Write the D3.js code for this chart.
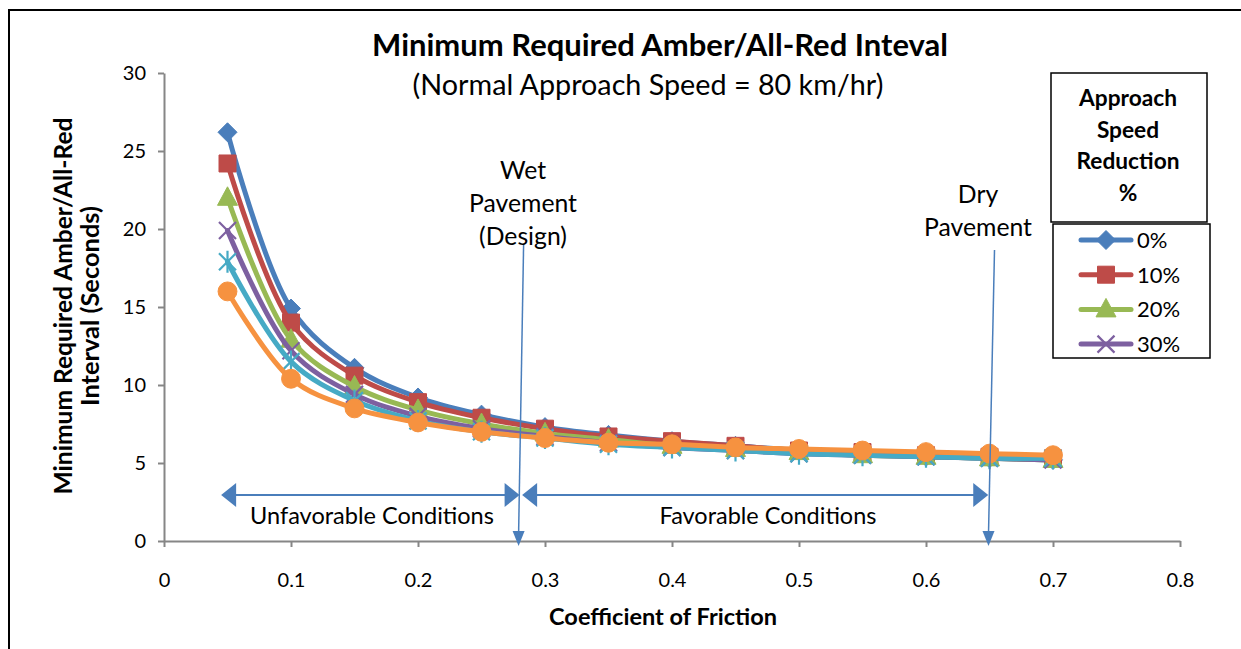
<!DOCTYPE html>
<html><head><meta charset="utf-8">
<script src="https://d3js.org/d3.v7.min.js"></script>
<style>html,body{margin:0;padding:0;background:#fff;}svg{display:block;}</style>
</head><body>
<script>
// ---------- data ----------
const friction = [0.05,0.1,0.15,0.2,0.25,0.3,0.35,0.4,0.45,0.5,0.55,0.6,0.65,0.7];
const seriesNames = ["0%","10%","20%","30%","40%","50%"];
const s0  = [26.2,14.9,11.1,9.2,8.1,7.3,6.8,6.4,6.1,5.8,5.6,5.4,5.3,5.2];
const s10 = [24.2,14.0,10.6,8.9,7.9,7.2,6.7,6.4,6.1,5.8,5.7,5.5,5.4,5.3];
const s20 = [22.0,12.9,9.9,8.4,7.5,6.9,6.5,6.1,5.9,5.7,5.5,5.4,5.3,5.2];
const s30 = [19.9,12.2,9.4,8.0,7.2,6.7,6.3,6.0,5.8,5.6,5.5,5.4,5.3,5.2];
const s40 = [17.9,11.5,9.0,7.7,7.0,6.6,6.2,6.0,5.8,5.6,5.5,5.4,5.3,5.3];
const s50 = [16.0,10.4,8.5,7.6,7.0,6.6,6.3,6.2,6.0,5.9,5.8,5.7,5.6,5.5];
const seriesValues = [s0,s10,s20,s30,s40,s50];
const yTicks = [0,5,10,15,20,25,30];
const xTicks = [0,0.1,0.2,0.3,0.4,0.5,0.6,0.7,0.8];
const legendShown = ["0%","10%","20%","30%"];
const titleText = "Minimum Required Amber/All-Red Inteval";
const subtitleText = "(Normal Approach Speed = 80 km/hr)";
const yTitleLines = ["Minimum Required Amber/All-Red","Interval (Seconds)"];
const xTitleText = "Coefficient of Friction";
const legendTitleLines = ["Approach","Speed","Reduction","%"];
const wetLabel = ["Wet","Pavement","(Design)"];
const dryLabel = ["Dry","Pavement"];
const wetFriction = 0.28, dryFriction = 0.65;
const rangeUnfav = [0.045, 0.28], rangeFav = [0.282, 0.649];
const rangeLabels = ["Unfavorable Conditions","Favorable Conditions"];

// ---------- styles ----------
const colors = ["#4A7EBB","#BE4B48","#98B954","#7D60A0","#46AAC5","#F69240"];
const markers = ["diamond","square","triangle","x","star","circle"];
const FONT = "Lato, 'Open Sans', sans-serif";
const W = 1241, H = 649;
const svg = d3.select("body").append("svg").attr("width",W).attr("height",H);

function fit(t, width){ // set font size so text has given width
  let fs = +t.attr("font-size");
  const w = t.node().getComputedTextLength();
  t.attr("font-size", fs*width/w);
  return t;
}

svg.append("rect").attr("x",9).attr("y",10).attr("width",W).attr("height",H)
  .attr("fill","none").attr("stroke","#000").attr("stroke-width",2);

const x = d3.scaleLinear().domain([0,0.8]).range([164,1180]);
const y = d3.scaleLinear().domain([0,30]).range([541,73]);

// axes
const gy = svg.append("g").attr("transform",`translate(${x(0)},0)`)
  .call(d3.axisLeft(y).tickValues(yTicks).tickSize(6).tickSizeOuter(0).tickPadding(12).tickFormat(d3.format("d")));
const gx = svg.append("g").attr("transform",`translate(0,${y(0)})`)
  .call(d3.axisBottom(x).tickValues(xTicks).tickSize(6).tickSizeOuter(0).tickPadding(26).tickFormat(d=>d===0?"0":d3.format(".1f")(d)));
[gx,gy].forEach(g=>{
  g.selectAll("path,line").attr("stroke","#868686").attr("stroke-width",2);
  g.selectAll("text").attr("font-family",FONT).attr("font-size",20).attr("fill","#000");
});

// titles
fit(svg.append("text").attr("x",660).attr("y",56).attr("text-anchor","middle")
  .attr("font-family",FONT).attr("font-weight","bold").attr("font-size",24).text(titleText),576);
fit(svg.append("text").attr("x",648).attr("y",95).attr("text-anchor","middle")
  .attr("font-family",FONT).attr("font-size",22).text(subtitleText),471);
fit(svg.append("text").attr("x",663).attr("y",625).attr("text-anchor","middle")
  .attr("font-family",FONT).attr("font-weight","bold").attr("font-size",19).text(xTitleText),228);
const yTitleW = [377,200];
yTitleLines.forEach((l,i)=>{
  fit(svg.append("text").attr("transform",`translate(${72+i*27},306) rotate(-90)`).attr("text-anchor","middle")
    .attr("font-family",FONT).attr("font-weight","bold").attr("font-size",19).text(l), yTitleW[i]);
});

// series
function markerPath(type){
  switch(type){
    case "diamond": return "M0,-9.5L9.5,0L0,9.5L-9.5,0Z";
    case "square": return "M-8.5,-8.5H8.5V8.5H-8.5Z";
    case "triangle": return "M0,-11L10,7.5H-10Z";
    case "x": return "M-8.5,-8.5L8.5,8.5M8.5,-8.5L-8.5,8.5";
    case "star": return "M-8.5,-8.5L8.5,8.5M8.5,-8.5L-8.5,8.5M0,-11V11";
    case "circle": return d3.symbol(d3.symbolCircle,280)();
  }
}
function drawMarker(g, type, color, cx, cy){
  const open = (type==="x"||type==="star");
  g.append("path").attr("d",markerPath(type)).attr("transform",`translate(${cx},${cy})`)
    .attr("fill",open?"none":color).attr("stroke",color).attr("stroke-width",open?2.2:1);
}
const line = d3.line().x(d=>x(d[0])).y(d=>y(d[1])).curve(d3.curveCatmullRom.alpha(0.5));
seriesValues.forEach((vals,i)=>{
  const pts = friction.map((f,j)=>[f,vals[j]]);
  const g = svg.append("g");
  g.append("path").attr("d",line(pts)).attr("fill","none").attr("stroke",colors[i])
    .attr("stroke-width",5).attr("stroke-linejoin","round").attr("stroke-linecap","round");
  pts.forEach(p=>drawMarker(g, markers[i], colors[i], x(p[0]), y(p[1])));
});

// annotations
const ac = "#4A7EBB";
const ann = svg.append("g");
function hArrow(x1,x2,yy){
  ann.append("line").attr("x1",x1+12).attr("x2",x2-12).attr("y1",yy).attr("y2",yy).attr("stroke",ac).attr("stroke-width",2);
  ann.append("path").attr("d",`M${x1},${yy}L${x1+15},${yy-12}V${yy+12}Z`).attr("fill",ac);
  ann.append("path").attr("d",`M${x2},${yy}L${x2-15},${yy-12}V${yy+12}Z`).attr("fill",ac);
}
const arrowY = y(3);
hArrow(x(rangeUnfav[0]), x(rangeUnfav[1]), arrowY+0.8);
hArrow(x(rangeFav[0]), x(rangeFav[1]), arrowY+0.8);
function vArrow(xTop, xBot, yTop){
  const yb = y(0)+5;
  ann.append("line").attr("x1",xTop).attr("y1",yTop).attr("x2",xBot).attr("y2",yb-12).attr("stroke",ac).attr("stroke-width",1.5);
  ann.append("path").attr("d",`M${xBot},${yb}L${xBot-6},${yb-15}H${xBot+6}Z`).attr("fill",ac);
}
vArrow(x(wetFriction)+4, x(wetFriction)-1, 245);
vArrow(x(dryFriction)+5, x(dryFriction)-1, 250);
const rlW = [244,217];
rangeLabels.forEach((l,i)=>{
  const cx = i===0?372:768;
  fit(ann.append("text").attr("x",cx).attr("y",524).attr("text-anchor","middle")
    .attr("font-family",FONT).attr("font-size",20).text(l), rlW[i]);
});
// font size fitted from "Pavement" width
const pvProbe = ann.append("text").attr("font-family",FONT).attr("font-size",21).text("Pavement");
fit(pvProbe,108);
const pvFs = +pvProbe.attr("font-size");
pvProbe.remove();
wetLabel.forEach((l,i)=>{
  ann.append("text").attr("x",523).attr("y",179+i*33).attr("text-anchor","middle")
    .attr("font-family",FONT).attr("font-size",pvFs).text(l);
});
dryLabel.forEach((l,i)=>{
  ann.append("text").attr("x",978).attr("y",203+i*33).attr("text-anchor","middle")
    .attr("font-family",FONT).attr("font-size",pvFs).text(l);
});

// legend
const lg = svg.append("g");
lg.append("rect").attr("x",1051).attr("y",73).attr("width",156).attr("height",149)
  .attr("fill","#fff").attr("stroke","#000").attr("stroke-width",1.5);
const apProbe = lg.append("text").attr("font-family",FONT).attr("font-weight","bold").attr("font-size",19).text("Approach");
fit(apProbe,98);
const apFs = +apProbe.attr("font-size");
apProbe.remove();
legendTitleLines.forEach((l,i)=>{
  lg.append("text").attr("x",1128).attr("y",106+i*31.5).attr("text-anchor","middle")
    .attr("font-family",FONT).attr("font-weight","bold").attr("font-size",apFs).text(l);
});
lg.append("rect").attr("x",1053).attr("y",224).attr("width",157).attr("height",134)
  .attr("fill","#fff").attr("stroke","#000").attr("stroke-width",1.5);
legendShown.forEach((name,k)=>{
  const i = seriesNames.indexOf(name);
  const ly = 240 + k*34.7;
  lg.append("line").attr("x1",1081).attr("x2",1131).attr("y1",ly).attr("y2",ly)
    .attr("stroke",colors[i]).attr("stroke-width",5).attr("stroke-linecap","round");
  drawMarker(lg, markers[i], colors[i], 1106, ly);
  lg.append("text").attr("x",1137).attr("y",ly+8).attr("font-family",FONT).attr("font-size",22).text(name);
});
</script>
</body></html>
